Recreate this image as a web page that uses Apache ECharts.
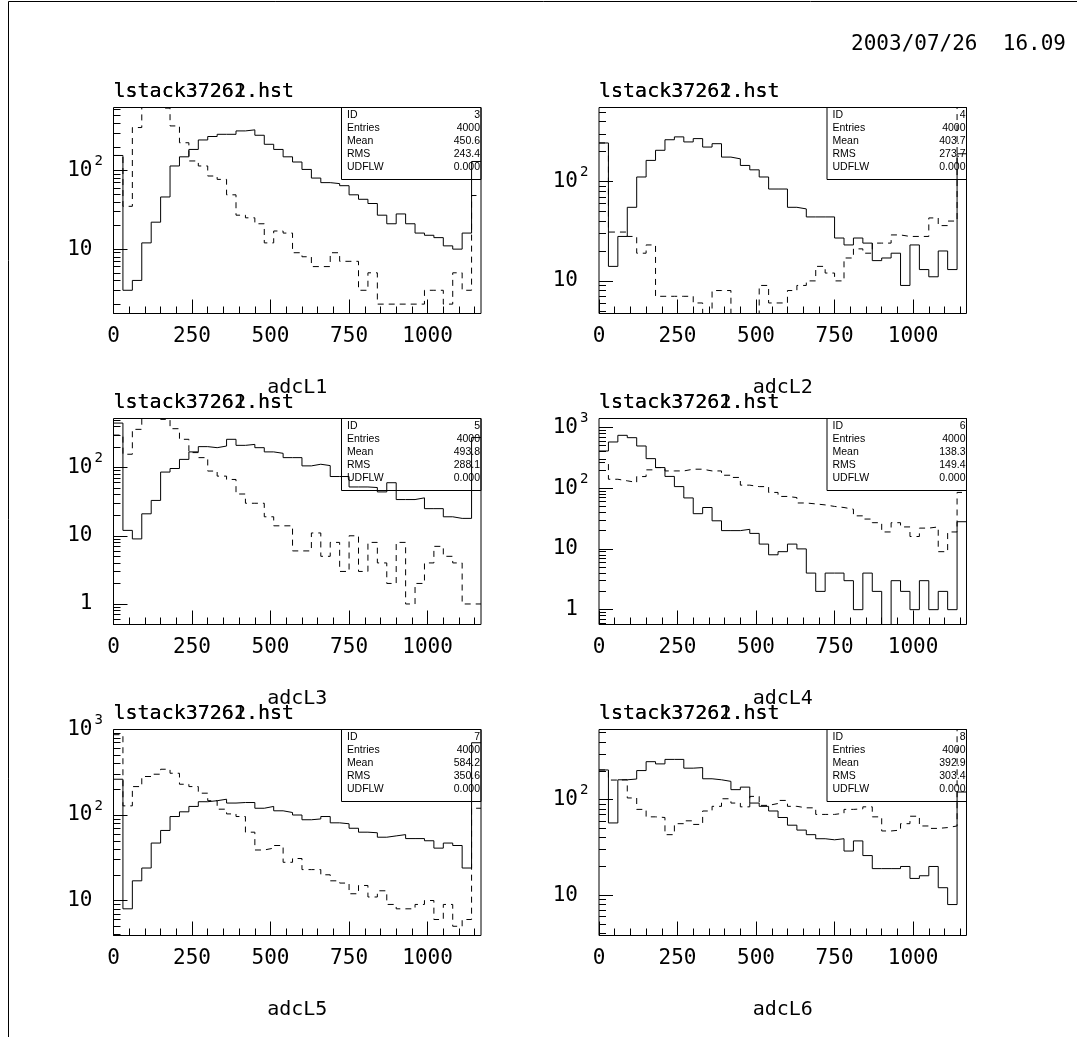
<!DOCTYPE html>
<html><head><meta charset="utf-8">
<script src="https://cdn.jsdelivr.net/npm/echarts@6/dist/echarts.min.js"></script>
<style>html,body{margin:0;padding:0;background:#fff}#c{width:1077px;height:1037px}</style>
</head><body><div id="c"></div>
<script>
// ---------------- data ----------------
const binWidth = 30;            // adc units per bin
const xMin = 0, xMax = 1170;
const xMajorTicks = [0, 250, 500, 750, 1000];
const xMinorTicks = [0,50,100,150,200,250,300,350,400,450,500,550,600,650,700,750,800,850,900,950,1000,1050,1100,1150];
const dateText = '2003/07/26  16.09';
const titleA = 'lstack37261.hst';
const titleB = 'lstack37262.hst';
const axisNames = ['adcL1','adcL2','adcL3','adcL4','adcL5','adcL6'];
const statLabels = ['ID','Entries','Mean','RMS','UDFLW'];
const statId = ['3','4','5','6','7','8'];
const statEntries = ['4000','4000','4000','4000','4000','4000'];
const statMean = ['450.6','403.7','493.8','138.3','584.2','392.9'];
const statRms = ['243.4','273.7','288.1','149.4','350.6','303.4'];
const statUdflw = ['0.000','0.000','0.000','0.000','0.000','0.000'];
const yMinVals = [1.52, 4.7, 0.5, 0.57, 3.9, 3.8];
const yMaxVals = [631, 555, 525, 1400, 1000, 540];
const yDecades = [[10,100],[10,100],[1,10,100],[1,10,100,1000],[10,100,1000],[10,100]];

const solid1 = [155,3,4,12,22,46,114,149,185,244,270,288,288,318,328,280,215,185,149,128,103,80,70,68,64,49,43,38,27,21,28,21,16,15,14,11,10,16,130];
const dashed1 = [155,35,351,700,700,620,368,225,132,114,85,77,49,27,25,21,12,17,16,9,8,6,6,9,7,7,3,5,2,2,2,2,2,3,3,2,5,3,48];
const solid2 = [244,14,28,55,111,163,206,263,281,250,270,222,240,176,169,145,131,111,84,84,55,53,44,44,44,27,23,27,24,16,17,19,9,23,13,11,20,13,190];
const dashed2 = [244,31,31,28,19,23,7,7,7,7,6,4,8,8,4,4,4,9,6,6,8,9,10,14,12,10,17,21,19,24,24,29,28,28,28,43,36,40,3000];
const solid3 = [450,12,9,21,33,86,97,132,170,203,196,207,260,212,219,196,170,162,140,140,106,112,107,74,74,52,52,51,44,60,34,34,36,25,25,19,18,18,276];
const dashed3 = [300,157,364,600,600,510,372,260,166,140,89,75,67,41,30,30,19,14,14,6,6,11,5,8,3,10,3,8,4,2,8,1,2,4,7,5,4,1,1];
const solid4 = [409,575,740,677,494,306,218,156,106,69,38,48,29,20,20,21,18,12,8,9,12,10,4,2,4,4,3,1,4,2,0,3,2,1,3,1,2,1,28];
const dashed4 = [264,140,132,124,155,200,218,192,192,205,205,192,192,163,150,112,106,106,85,73,70,57,55,53,50,48,45,35,31,27,19,27,23,16,22,23,9,19,85];
const solid5 = [262,8,17,24,47,66,96,109,126,143,147,153,138,140,140,120,126,112,107,100,88,90,96,81,79,70,63,62,55,57,59,53,53,50,41,47,44,24,700];
const dashed5 = [870,128,215,282,300,343,308,229,215,180,147,117,103,96,63,39,41,44,28,31,23,23,20,17,16,12,15,11,13,9,8,8,9,10,6,9,5,6,120];
const solid6 = [204,57,161,164,201,249,236,263,263,213,216,165,161,155,127,135,92,85,76,65,54,48,43,39,38,39,29,37,26,19,19,19,20,15,16,20,12,8,120];
const dashed6 = [204,160,161,104,79,66,65,43,56,60,55,76,85,102,92,84,108,87,91,98,85,82,82,70,70,72,79,80,84,66,47,48,56,67,53,50,51,53,1500];

const solidSets = [solid1, solid2, solid3, solid4, solid5, solid6];
const dashedSets = [dashed1, dashed2, dashed3, dashed4, dashed5, dashed6];

// ---------------- layout ----------------
const colLeft = [113.5, 599];
const rowTop = [107.5, 418.5, 729.5];
const PW = 367.5, PH = 206;
const MONO = '"DejaVu Sans Mono", monospace';
const SANS = '"Liberation Sans", Arial, sans-serif';

function steps(vals) {
  const pts = vals.map((v, i) => [xMin + i * binWidth, Math.max(v, 0.01)]);
  pts.push([xMin + vals.length * binWidth, Math.max(vals[vals.length - 1], 0.01)]);
  return pts;
}
function minorLogTicks(lo, hi) {
  const out = [];
  for (let e = -1; e <= 4; e++) {
    const d = Math.pow(10, e);
    for (let m = 2; m <= 9; m++) { const v = m * d; if (v >= lo && v <= hi) out.push(v); }
  }
  return out;
}

const grids = [], xAxes = [], yAxes = [], series = [], graphics = [];
graphics.push({type:'rect', shape:{x:8.5, y:1.5, width:1200, height:1200}, style:{fill:'none', stroke:'#000', lineWidth:1}, silent:true});
graphics.push({type:'text', style:{text:dateText, x:1066, y:45, font:'21px ' + MONO, fill:'#000', textAlign:'right', textVerticalAlign:'middle', align:'right', verticalAlign:'middle'}});

for (let g = 0; g < 6; g++) {
  const left = colLeft[g % 2], top = rowTop[Math.floor(g / 2)];
  grids.push({left:left, top:top, width:PW, height:PH, show:true, borderColor:'#000', borderWidth:1, backgroundColor:'transparent', containLabel:false, outerBoundsMode:'none'});
  xAxes.push({type:'value', gridIndex:g, min:xMin, max:xMax, position:'bottom',
    axisLine:{show:false}, splitLine:{show:false},
    axisTick:{show:true, inside:true, length:7, customValues:xMinorTicks, lineStyle:{color:'#000', width:1}},
    axisLabel:{show:false}});
  xAxes.push({type:'value', gridIndex:g, min:xMin, max:xMax, position:'bottom',
    axisLine:{show:false}, splitLine:{show:false},
    axisTick:{show:true, inside:true, length:14, customValues:xMajorTicks, lineStyle:{color:'#000', width:1}},
    axisLabel:{show:true, customValues:xMajorTicks, margin:13, fontSize:21, fontFamily:MONO, color:'#000', formatter: v => String(v)},
    name:axisNames[g], nameLocation:'middle', nameGap:64,
    nameTextStyle:{fontSize:20, fontFamily:MONO, color:'#000'}});
  const dec = yDecades[g];
  const sup = dec.filter(v => v >= 100);
  yAxes.push({type:'log', logBase:10, gridIndex:g, min:yMinVals[g], max:yMaxVals[g], position:'left',
    axisLine:{show:false}, splitLine:{show:false},
    axisTick:{show:true, inside:true, length:14, customValues:dec, lineStyle:{color:'#000', width:1}},
    axisLabel:{show:true, customValues:dec, margin:21, fontSize:21, fontFamily:MONO, color:'#000',
      formatter: v => (v >= 100 ? '10' : String(Math.round(v)))}});
  yAxes.push({type:'log', logBase:10, gridIndex:g, min:yMinVals[g], max:yMaxVals[g], position:'left',
    axisLine:{show:false}, splitLine:{show:false},
    axisTick:{show:true, inside:true, length:7, customValues:minorLogTicks(yMinVals[g], yMaxVals[g]), lineStyle:{color:'#000', width:1}},
    axisLabel:{show:sup.length > 0, customValues:sup, margin:19, fontSize:14, fontFamily:MONO, color:'#000', align:'left', verticalAlign:'bottom', padding:[0,0,2,0],
      formatter: v => String(Math.round(Math.log10(v)))}});
  series.push({type:'line', xAxisIndex:2*g, yAxisIndex:2*g, data:steps(solidSets[g]), step:'end', symbol:'none', clip:true, silent:true,
    lineStyle:{color:'#000', width:1, type:'solid'}, z:5});
  series.push({type:'line', xAxisIndex:2*g, yAxisIndex:2*g, data:steps(dashedSets[g]), step:'end', symbol:'none', clip:true, silent:true,
    lineStyle:{color:'#000', width:1, type:[6,5]}, z:5});
  [titleA, titleB].forEach(t => graphics.push({type:'text', silent:true, style:{text:t, x:left, y:top - 6, font:'20px ' + MONO, fill:'#000', textAlign:'left', textVerticalAlign:'bottom', align:'left', verticalAlign:'bottom'}}));
  const bw = 139.5, bh = 72, bx = left + PW - bw;
  graphics.push({type:'rect', silent:true, z:1, shape:{x:bx, y:top, width:bw, height:bh}, style:{fill:'none', stroke:'#000', lineWidth:1}});
  const vals = [statId[g], statEntries[g], statMean[g], statRms[g], statUdflw[g]];
  for (let r = 0; r < 5; r++) {
    const yy = top + 8 + r * 12.8;
    graphics.push({type:'text', silent:true, z:1, style:{text:statLabels[r], x:bx + 5.5, y:yy, font:'10.5px ' + SANS, fill:'#000', textAlign:'left', textVerticalAlign:'middle', align:'left', verticalAlign:'middle'}});
    graphics.push({type:'text', silent:true, z:1, style:{text:vals[r], x:left + PW - 1, y:yy, font:'10.5px ' + SANS, fill:'#000', textAlign:'right', textVerticalAlign:'middle', align:'right', verticalAlign:'middle'}});
  }
}

const chart = echarts.init(document.getElementById('c'), null, {renderer:'canvas'});
chart.setOption({animation:false, backgroundColor:'#fff', grid:grids, xAxis:xAxes, yAxis:yAxes, series:series, graphic:graphics});
</script></body></html>
